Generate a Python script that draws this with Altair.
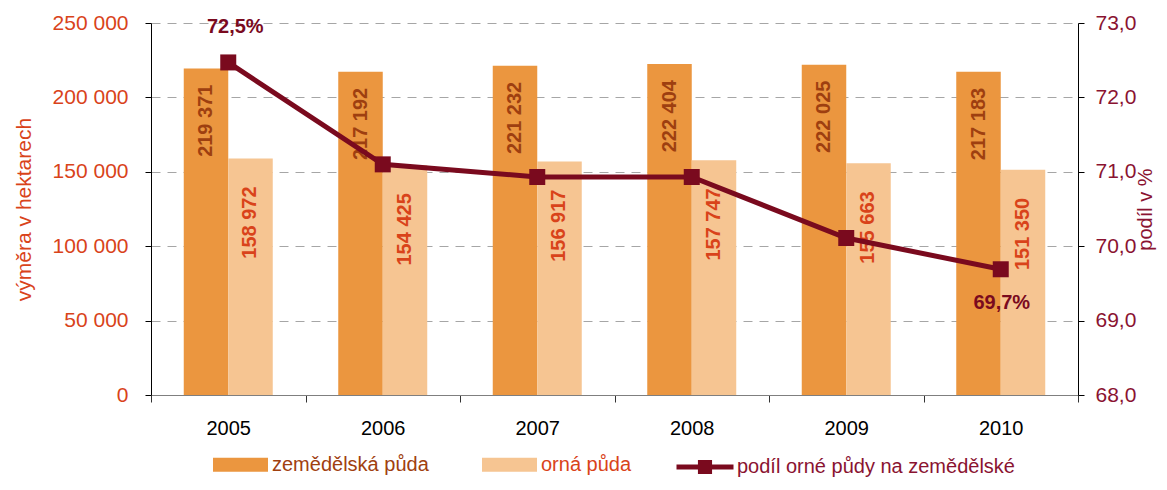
import altair as alt
import pandas as pd

years = ["2005", "2006", "2007", "2008", "2009", "2010"]
zemedelska = [219371, 217192, 221232, 222404, 222025, 217183]
orna = [158972, 154425, 156917, 157747, 155663, 151350]
podil = [72.47, 71.10, 70.93, 70.93, 70.11, 69.69]

S1 = "zemědělská půda"
S2 = "orná půda"
S3 = "podíl orné půdy na zemědělské"

left_ticks = [0, 50000, 100000, 150000, 200000, 250000]
right_ticks = [68.0, 68.5, 69.0, 69.5, 70.0, 70.5, 71.0, 71.5, 72.0, 72.5, 73.0]

DARK = "#EB963F"
LIGHT = "#F6C592"
RED = "#7A0A1E"
AXL = "#D9431A"
AXR = "#8A1331"
BROWN = "#9E3F10"
FONT = "Liberation Sans"

bars_df = pd.DataFrame({
    "rok": years * 2,
    "serie": [S1] * 6 + [S2] * 6,
    "vymera": zemedelska + orna,
})
line_df = pd.DataFrame({"rok": years, "podil": podil, "serie": [S3] * 6})

x_enc = alt.X(
    "rok:N",
    scale=alt.Scale(paddingInner=0, paddingOuter=0),
    axis=alt.Axis(
        title=None, tickBand="extent", labelAngle=0, labelFontSize=20,
        labelColor="black", labelPadding=16, tickSize=7, tickColor="#333333",
        domainColor="#7f7f7f", labelFont=FONT,
    ),
)
xoff = alt.XOffset(
    "serie:N",
    scale=alt.Scale(domain=[S1, S2], paddingInner=0, paddingOuter=0.736),
)
y_left = alt.Y(
    "vymera:Q",
    scale=alt.Scale(domain=[0, 250000], nice=False),
    axis=alt.Axis(
        values=left_ticks,
        labelExpr="replace(format(datum.value, ','), regexp(',', 'g'), ' ')",
        title="výměra v hektarech", titleColor=AXL, titleFontSize=21,
        titleFontWeight="normal", titleFont=FONT, titlePadding=18,
        labelColor=AXL, labelFontSize=21, labelFont=FONT, labelPadding=17,
        tickSize=6, tickColor="black", domainColor="black",
        grid=True, gridColor="#A6A6A6", gridDash=[9, 7], gridWidth=1,
    ),
)

bars = alt.Chart(bars_df).mark_bar().encode(
    x=x_enc,
    xOffset=xoff,
    y=y_left,
    fill=alt.Fill(
        "serie:N",
        scale=alt.Scale(domain=[S1, S2], range=[DARK, LIGHT]),
        legend=alt.Legend(
            orient="none", legendX=62, legendY=414, direction="horizontal",
            title=None, symbolType="M-1,-0.2545H1V0.2545H-1Z", symbolSize=3025,
            symbolStrokeWidth=0, labelFontSize=20, labelFont=FONT,
            labelColor=alt.ExprRef(f"datum.label == '{S2}' ? '{AXL}' : '#A0400F'"),
            labelOffset=4, columnPadding=53, padding=0, labelLimit=500,
        ),
    ),
)

lab_expr = "replace(format(datum.vymera, ','), regexp(',', 'g'), ' ')"
labels_dark = alt.Chart(bars_df).transform_filter(
    alt.datum.serie == S1
).transform_calculate(lab=lab_expr).mark_text(
    angle=270, align="right", baseline="middle", dx=-16, fontSize=20,
    fontWeight="bold", color=BROWN, font=FONT,
).encode(x=alt.X("rok:N"), xOffset=xoff, y=alt.Y("vymera:Q"), text="lab:N")

labels_light = alt.Chart(bars_df).transform_filter(
    alt.datum.serie == S2
).transform_calculate(lab=lab_expr).mark_text(
    angle=270, align="right", baseline="middle", dx=-28, fontSize=20,
    fontWeight="bold", color=AXL, font=FONT,
).encode(x=alt.X("rok:N"), xOffset=xoff, y=alt.Y("vymera:Q"), text="lab:N")

left = alt.layer(bars, labels_dark, labels_light)

y_right = alt.Y(
    "podil:Q",
    scale=alt.Scale(domain=[68, 73], nice=False, zero=False),
    axis=alt.Axis(
        orient="right", values=right_ticks,
        labelExpr="replace(format(datum.value, '.1f'), '.', ',')",
        title="podíl v %", titleAngle=270, titleBaseline="top", titleColor=AXR,
        titleFontSize=20, titleFontWeight="normal", titleFont=FONT, titlePadding=0,
        labelColor=AXR, labelFontSize=21, labelFont=FONT, labelPadding=11,
        tickSize=6, tickColor="black", domainColor="black", grid=False,
    ),
)

line = alt.Chart(line_df).mark_line(strokeWidth=5).encode(
    x=alt.X("rok:N"),
    y=y_right,
    stroke=alt.Stroke(
        "serie:N",
        scale=alt.Scale(domain=[S3], range=[RED]),
        legend=alt.Legend(
            orient="none", legendX=523, legendY=413, direction="horizontal",
            title=None, symbolType="M-1,0H1M-0.16,-0.16H0.16V0.16H-0.16Z",
            symbolSize=3249, symbolStrokeWidth=5, symbolFillColor=RED,
            labelFontSize=20, labelFont=FONT, labelColor=AXR, labelOffset=1,
            padding=0, labelLimit=500,
        ),
    ),
)
points = alt.Chart(line_df).mark_point(
    shape="square", filled=True, size=256, color=RED, opacity=1
).encode(x=alt.X("rok:N"), y=alt.Y("podil:Q"))

pct_expr = "replace(format(datum.podil, '.1f'), '.', ',') + '%'"
pct_first = alt.Chart(line_df).transform_filter(
    alt.datum.rok == years[0]
).transform_calculate(lab=pct_expr).mark_text(
    dy=-35, dx=7, fontSize=20, fontWeight="bold", color=RED, font=FONT
).encode(x=alt.X("rok:N"), y=alt.Y("podil:Q"), text="lab:N")
pct_last = alt.Chart(line_df).transform_filter(
    alt.datum.rok == years[-1]
).transform_calculate(lab=pct_expr).mark_text(
    dy=34, dx=1, fontSize=20, fontWeight="bold", color=RED, font=FONT
).encode(x=alt.X("rok:N"), y=alt.Y("podil:Q"), text="lab:N")

right = alt.layer(line, points, pct_first, pct_last)

chart = alt.layer(left, right).resolve_scale(y="independent").properties(
    width=927, height=372,
    autosize=alt.AutoSizeParams(type="none"),
    padding={"left": 143, "top": 15, "right": 81, "bottom": 83},
).configure_view(stroke=None)

chart.save("out.html", embed_options={"renderer": "svg", "actions": False})
